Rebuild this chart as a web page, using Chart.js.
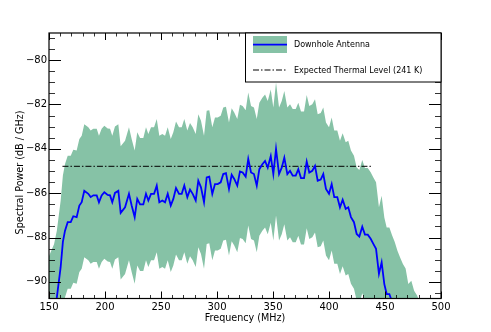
<!DOCTYPE html>
<html>
<head>
<meta charset="utf-8">
<script src="https://cdn.jsdelivr.net/npm/chart.js@4/dist/chart.umd.min.js"></script>
<style>
  html, body { margin: 0; padding: 0; background: #fff; }
  #chart { display: block; }
</style>
</head>
<body>
<canvas id="chart" width="491" height="332"></canvas>
<script>
// frequency samples (MHz)
const freq = [
  149.5, 152.0, 154.5, 157.0, 160.4, 162.4, 164.3, 166.7, 169.4, 171.7,
  174.7, 177.1, 179.2, 181.5, 185.1, 187.2, 189.6, 192.6, 194.6, 197.0,
  199.4, 202.4, 204.5, 206.5, 208.9, 211.9, 214.0, 217.9, 221.4, 223.8,
  226.5, 228.8, 231.3, 234.2, 236.6, 238.7, 241.1, 243.8, 246.2, 248.5,
  251.2, 253.6, 256.0, 258.7, 261.0, 263.4, 266.1, 268.5, 270.8, 273.5,
  275.9, 278.3, 281.0, 283.3, 285.7, 288.4, 290.8, 293.1, 295.8, 298.2,
  300.6, 303.3, 305.6, 308.0, 310.7, 313.1, 315.4, 318.1, 320.5, 322.9,
  325.6, 327.9, 330.4, 333.0, 335.5, 337.8, 340.5, 342.9, 345.3, 348.0,
  350.3, 352.7, 355.4, 357.8, 360.1, 362.8, 365.2, 367.6, 370.3, 372.6,
  375.0, 377.7, 380.1, 382.4, 385.1, 387.5, 389.9, 392.6, 394.9, 397.3,
  400.0, 402.4, 404.7, 407.4, 409.8, 412.2, 414.9, 417.2, 419.6, 422.3,
  424.7, 427.1, 429.7, 432.1, 434.6, 437.2, 439.6, 442.0, 444.6, 447.0,
  449.4, 451.5, 453.9, 456.3, 458.7, 461.1, 463.5, 466.0, 468.4, 470.8,
  473.5, 476.0, 478.5, 481.0, 483.5
];

// downhole antenna mean spectral power (dB / GHz)
const power = [
  -91.90, -91.60, -91.30, -90.70, -89.34, -88.20, -87.69, -87.31, -87.31, -87.04,
  -87.08, -86.56, -86.41, -85.89, -86.03, -86.18, -86.10, -86.10, -86.41, -86.10,
  -85.96, -86.08, -86.10, -86.41, -85.99, -85.89, -86.89, -86.64, -86.03, -86.56,
  -87.08, -86.26, -86.51, -86.51, -86.03, -86.33, -86.03, -86.03, -85.66, -86.41,
  -86.33, -86.41, -86.03, -86.56, -86.26, -85.77, -86.03, -86.03, -85.66, -86.18,
  -85.84, -86.03, -86.33, -85.44, -85.74, -86.41, -85.29, -85.26, -86.03, -85.59,
  -85.59, -85.51, -85.14, -85.10, -85.81, -85.17, -85.36, -85.66, -85.02, -85.07,
  -85.26, -84.46, -85.07, -85.14, -85.66, -84.92, -84.70, -84.55, -84.85, -84.33,
  -85.14, -84.01, -85.14, -84.85, -84.40, -85.14, -84.99, -85.21, -85.21, -84.92,
  -85.32, -85.32, -84.58, -85.07, -84.99, -84.77, -85.44, -85.39, -85.14, -85.81,
  -86.03, -85.59, -86.18, -86.18, -86.64, -86.30, -86.71, -86.64, -87.08, -87.31,
  -87.84, -87.96, -87.51, -87.87, -87.87, -88.06, -88.29, -88.51, -89.64, -89.12,
  -90.10, -90.55, -90.55, -90.90, -91.20, -91.60, -91.90, -92.20, -92.40, -93.10,
  -92.95, -93.40, -93.60, -93.90, -94.20
];

// upper edge of shaded spread
const powerHigh = [
  -88.90, -88.60, -88.30, -87.70, -86.34, -85.20, -84.69, -84.31, -84.31, -84.04,
  -84.08, -83.56, -83.41, -82.89, -83.03, -83.18, -83.10, -83.10, -83.41, -83.10,
  -82.96, -83.08, -83.10, -83.41, -82.99, -82.89, -83.89, -83.64, -83.03, -83.56,
  -84.08, -83.26, -83.51, -83.51, -83.03, -83.33, -83.03, -83.03, -82.66, -83.41,
  -83.33, -83.41, -83.03, -83.56, -83.26, -82.77, -83.03, -83.03, -82.66, -83.18,
  -82.84, -83.03, -83.33, -82.44, -82.74, -83.41, -82.29, -82.26, -83.03, -82.59,
  -82.59, -82.51, -82.14, -82.10, -82.81, -82.17, -82.36, -82.66, -82.02, -82.07,
  -82.26, -81.46, -82.07, -82.14, -82.66, -81.92, -81.70, -81.55, -81.85, -81.33,
  -82.14, -81.01, -82.14, -81.85, -81.40, -82.14, -81.99, -82.21, -82.21, -81.92,
  -82.32, -82.32, -81.58, -82.07, -81.99, -81.77, -82.44, -82.39, -82.14, -82.81,
  -83.03, -82.59, -83.18, -83.18, -83.64, -83.30, -83.71, -83.64, -84.08, -84.31,
  -84.84, -84.96, -84.51, -84.87, -84.87, -85.06, -85.29, -85.51, -86.64, -86.12,
  -87.10, -87.55, -87.55, -87.90, -88.20, -88.60, -88.90, -89.20, -89.40, -90.10,
  -89.95, -90.40, -90.60, -90.90, -91.20
];

// lower edge of shaded spread
const powerLow = [
  -94.90, -94.60, -94.30, -93.70, -92.34, -91.20, -90.69, -90.31, -90.31, -90.04,
  -90.08, -89.56, -89.41, -88.89, -89.03, -89.18, -89.10, -89.10, -89.41, -89.10,
  -88.96, -89.08, -89.10, -89.41, -88.99, -88.89, -89.89, -89.64, -89.03, -89.56,
  -90.08, -89.26, -89.51, -89.51, -89.03, -89.33, -89.03, -89.03, -88.66, -89.41,
  -89.33, -89.41, -89.03, -89.56, -89.26, -88.77, -89.03, -89.03, -88.66, -89.18,
  -88.84, -89.03, -89.33, -88.44, -88.74, -89.41, -88.29, -88.26, -89.03, -88.59,
  -88.59, -88.51, -88.14, -88.10, -88.81, -88.17, -88.36, -88.66, -88.02, -88.07,
  -88.26, -87.46, -88.07, -88.14, -88.66, -87.92, -87.70, -87.55, -87.85, -87.33,
  -88.14, -87.01, -88.14, -87.85, -87.40, -88.14, -87.99, -88.21, -88.21, -87.92,
  -88.32, -88.32, -87.58, -88.07, -87.99, -87.77, -88.44, -88.39, -88.14, -88.81,
  -89.03, -88.59, -89.18, -89.18, -89.64, -89.30, -89.71, -89.64, -90.08, -90.31,
  -90.84, -90.96, -90.51, -90.87, -90.87, -91.06, -91.29, -91.51, -92.64, -92.12,
  -93.10, -93.55, -93.55, -93.90, -94.20, -94.60, -94.90, -95.20, -95.40, -96.10,
  -95.95, -96.40, -96.60, -96.90, -97.20
];

// expected thermal level (241 K)
const thermalFreq = [162, 438];
const thermalLevel = [-84.79, -84.79];

const xMajor = [150, 200, 250, 300, 350, 400, 450, 500];
const xMinor = [160, 170, 180, 190, 210, 220, 230, 240, 260, 270, 280, 290, 310, 320, 330, 340,
  360, 370, 380, 390, 410, 420, 430, 440, 460, 470, 480, 490];
const yMajor = [-90, -88, -86, -84, -82, -80];
const yMinor = [-90.5, -89.5, -89, -88.5, -87.5, -87, -86.5, -85.5, -85, -84.5, -83.5, -83,
  -82.5, -81.5, -81, -80.5, -79.5, -79];

const antennaLabel = 'Downhole Antenna';
const thermalLabel = 'Expected Thermal Level (241 K)';
const yTitle = 'Spectral Power (dB / GHz)';

const BLUE = '#0000ff';
const GREEN = '#86c2a6';
const DASHDOT = [6, 2, 1.5, 2];

const pts = (xs, ys) => xs.map((x, i) => ({ x: x, y: ys[i] }));

Chart.defaults.font.family = '"DejaVu Sans", sans-serif';
Chart.defaults.color = '#000';

// inward ticks on all four sides, the frame, y title and the boxed legend
const framePlugin = {
  id: 'frame',
  afterDraw(chart) {
    const { ctx, chartArea: a, scales: { x, y } } = chart;
    ctx.save();
    ctx.strokeStyle = '#000';
    const line = (x1, y1, x2, y2) => {
      ctx.beginPath(); ctx.moveTo(x1, y1); ctx.lineTo(x2, y2); ctx.stroke();
    };

    ctx.lineWidth = 0.8;
    xMinor.forEach(v => {
      const px = Math.round(x.getPixelForValue(v)) + 0.5;
      line(px, a.bottom, px, a.bottom - 3.5);
      line(px, a.top, px, a.top + 3.5);
    });
    yMinor.forEach(v => {
      const py = Math.round(y.getPixelForValue(v)) + 0.5;
      line(a.left, py, a.left + 6, py);
      line(a.right, py, a.right - 6, py);
    });
    ctx.lineWidth = 1;
    xMajor.forEach(v => {
      const px = Math.round(x.getPixelForValue(v)) + 0.5;
      line(px, a.bottom, px, a.bottom - 7);
      line(px, a.top, px, a.top + 7);
    });
    yMajor.forEach(v => {
      const py = Math.round(y.getPixelForValue(v)) + 0.5;
      line(a.left, py, a.left + 12, py);
      line(a.right, py, a.right - 12, py);
    });

    ctx.lineWidth = 1.2;
    ctx.strokeRect(a.left, a.top, a.right - a.left, a.bottom - a.top);

    // y axis title
    ctx.save();
    ctx.translate(20.7, 172.5);
    ctx.rotate(-Math.PI / 2);
    ctx.fillStyle = '#000';
    ctx.font = '9.6px "DejaVu Sans"';
    ctx.textAlign = 'center';
    ctx.textBaseline = 'middle';
    ctx.fillText(yTitle, 0, 0);
    ctx.restore();

    // legend
    const lx = 245.5, ly = a.top, lw = a.right - 245.5, lh = 49;
    ctx.fillStyle = '#fff';
    ctx.fillRect(lx, ly, lw, lh);
    ctx.lineWidth = 1;
    ctx.strokeRect(lx, ly, lw, lh);

    ctx.fillStyle = GREEN;
    ctx.fillRect(253, 36, 34, 17);
    ctx.strokeStyle = BLUE;
    ctx.lineWidth = 1.8;
    line(253, 44.7, 287, 44.7);

    ctx.strokeStyle = '#000';
    ctx.lineWidth = 1;
    ctx.setLineDash(DASHDOT);
    line(253, 70, 287, 70);
    ctx.setLineDash([]);

    ctx.fillStyle = '#000';
    ctx.font = '8px "DejaVu Sans"';
    ctx.textBaseline = 'middle';
    ctx.textAlign = 'left';
    ctx.fillText(antennaLabel, 294, 45);
    ctx.fillText(thermalLabel, 294, 70.5);
    ctx.restore();
  }
};

new Chart(document.getElementById('chart'), {
  type: 'line',
  data: {
    datasets: [
      {
        label: antennaLabel,
        data: pts(freq, power),
        borderColor: BLUE,
        borderWidth: 1.8,
        pointRadius: 0,
        fill: false,
        tension: 0,
      },
      {
        label: thermalLabel,
        data: pts(thermalFreq, thermalLevel),
        borderColor: '#000',
        borderWidth: 1,
        borderDash: DASHDOT,
        pointRadius: 0,
        fill: false,
      },
      {
        label: 'spread high',
        data: pts(freq, powerHigh),
        borderWidth: 0,
        borderColor: GREEN,
        backgroundColor: GREEN,
        pointRadius: 0,
        fill: '+1',
      },
      {
        label: 'spread low',
        data: pts(freq, powerLow),
        borderWidth: 0,
        borderColor: GREEN,
        pointRadius: 0,
        fill: false,
      },
    ],
  },
  options: {
    responsive: false,
    animation: false,
    devicePixelRatio: 1,
    layout: { padding: { left: 0, top: 33, right: 50, bottom: 0 } },
    plugins: {
      legend: { display: false },
      tooltip: { enabled: false },
    },
    scales: {
      x: {
        type: 'linear',
        min: 150,
        max: 500,
        afterFit: s => { s.height = 33.5; },
        afterBuildTicks: s => { s.ticks = xMajor.map(v => ({ value: v })); },
        grid: { display: false, drawTicks: false },
        border: { display: false },
        ticks: { font: { size: 10 }, padding: 3, maxRotation: 0, autoSkip: false },
        title: {
          display: true,
          text: 'Frequency (MHz)',
          font: { size: 9.6 },
          padding: { top: 0, bottom: 8 },
        },
      },
      y: {
        type: 'linear',
        min: -90.75,
        max: -78.78,
        afterFit: s => { s.width = 49; },
        afterBuildTicks: s => { s.ticks = yMajor.map(v => ({ value: v })); },
        grid: { display: false, drawTicks: false },
        border: { display: false },
        ticks: {
          font: { size: 10 },
          padding: 2,
          autoSkip: false,
          callback: v => String(v).replace('-', '\u2212'),
        },
      },
    },
  },
  plugins: [framePlugin],
});
</script>
</body>
</html>
